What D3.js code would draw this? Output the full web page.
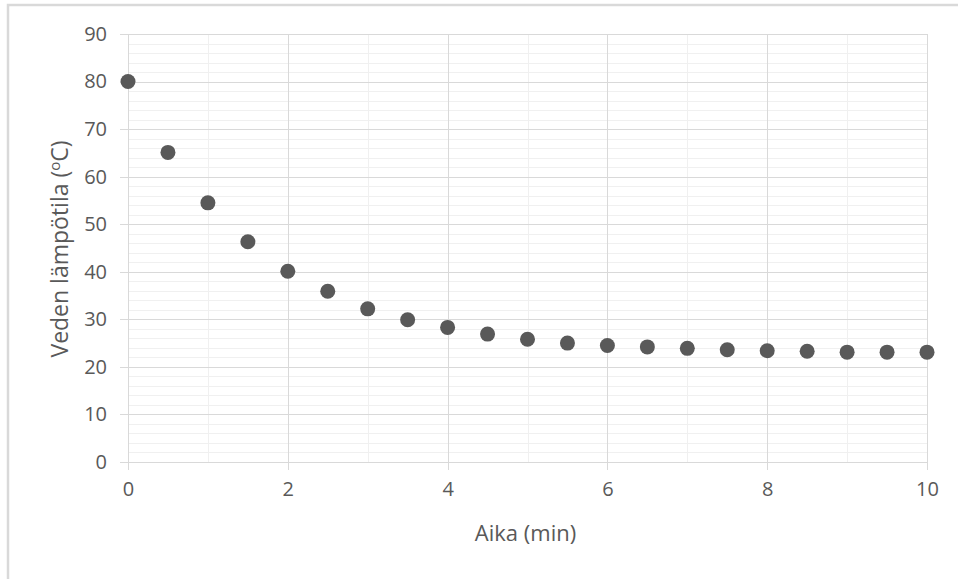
<!DOCTYPE html>
<html>
<head>
<meta charset="utf-8">
<script src="https://cdn.jsdelivr.net/npm/d3@7"></script>
<style>
	body { margin: 0; background: #fff; }
	text { font-family: "Open Sans", sans-serif; fill: #595959; }
</style>
</head>
<body>
<div id="chart"></div>
<script>
// time in minutes
var aika = [0, 0.5, 1, 1.5, 2, 2.5, 3, 3.5, 4, 4.5, 5, 5.5, 6, 6.5, 7, 7.5, 8, 8.5, 9, 9.5, 10];
// water temperature
var lampotila = [80, 65.1, 54.5, 46.3, 40.1, 35.9, 32.2, 29.9, 28.3, 26.9, 25.8, 25.0, 24.5, 24.2, 23.9, 23.6, 23.4, 23.3, 23.1, 23.1, 23.1];
var xTicks = [0, 2, 4, 6, 8, 10];
var yTicks = [0, 10, 20, 30, 40, 50, 60, 70, 80, 90];

var margin = { top: 34, right: 31, bottom: 117, left: 128 },
	width = 958 - margin.left - margin.right,
	height = 579 - margin.top - margin.bottom;

var svg = d3.select("#chart")
	.append("svg")
	.attr("width", 958)
	.attr("height", 579);

// outer chart border (runs off the right and bottom)
svg.append("rect")
	.attr("x", 8)
	.attr("y", 5)
	.attr("width", 980)
	.attr("height", 600)
	.attr("fill", "none")
	.attr("stroke", "#d9d9d9")
	.attr("stroke-width", 2.5);

var g = svg.append("g")
	.attr("transform", "translate(" + margin.left + "," + margin.top + ")");

var x = d3.scaleLinear().domain([0, 10]).range([0, width]);
var y = d3.scaleLinear().domain([0, 90]).range([height, 0]);

// minor gridlines
g.append("g")
	.selectAll("line")
	.data(d3.range(0, 91, 2).filter(function(d) { return d % 10 != 0; }))
	.enter()
	.append("line")
	.attr("x1", 0).attr("x2", width)
	.attr("y1", function(d) { return Math.round(y(d)) + 0.5; })
	.attr("y2", function(d) { return Math.round(y(d)) + 0.5; })
	.attr("stroke", "#f0f0f0");
g.append("g")
	.selectAll("line")
	.data([1, 3, 5, 7, 9])
	.enter()
	.append("line")
	.attr("y1", 0).attr("y2", height)
	.attr("x1", function(d) { return Math.round(x(d)) + 0.5; })
	.attr("x2", function(d) { return Math.round(x(d)) + 0.5; })
	.attr("stroke", "#f0f0f0");

// major gridlines
g.append("g")
	.selectAll("line")
	.data(yTicks)
	.enter()
	.append("line")
	.attr("x1", -8).attr("x2", width)
	.attr("y1", function(d) { return Math.round(y(d)) + 0.5; })
	.attr("y2", function(d) { return Math.round(y(d)) + 0.5; })
	.attr("stroke", "#d9d9d9");
g.append("g")
	.selectAll("line")
	.data(xTicks)
	.enter()
	.append("line")
	.attr("y1", 0).attr("y2", height + 8)
	.attr("x1", function(d) { return Math.round(x(d)) + 0.5; })
	.attr("x2", function(d) { return Math.round(x(d)) + 0.5; })
	.attr("stroke", "#d9d9d9");

// tick labels
var yAxis = g.append("g")
	.call(d3.axisLeft(y).tickValues(yTicks).tickSize(0).tickPadding(21));
yAxis.select(".domain").remove();
yAxis.selectAll("text").style("font-size", "20px").style("fill", "#595959");

var xAxis = g.append("g")
	.attr("transform", "translate(0," + height + ")")
	.call(d3.axisBottom(x).tickValues(xTicks).tickSize(0).tickPadding(20));
xAxis.select(".domain").remove();
xAxis.selectAll("text").style("font-size", "20px").style("fill", "#595959");

// axis titles
g.append("text")
	.attr("text-anchor", "middle")
	.attr("x", width / 2 - 2)
	.attr("y", height + 79)
	.style("font-size", "22px")
	.text("Aika (min)");

var yTitle = g.append("text")
	.attr("text-anchor", "middle")
	.attr("transform", "translate(-60," + (height / 2 + 1) + ") rotate(-90)")
	.style("font-size", "23px");
yTitle.append("tspan").text("Veden lämpötila (");
yTitle.append("tspan").attr("dy", "-8").style("font-size", "15px").text("o");
yTitle.append("tspan").attr("dy", "8").text("C)");

// dots
g.append("g")
	.selectAll("circle")
	.data(aika)
	.enter()
	.append("circle")
	.attr("cx", function(d) { return x(d); })
	.attr("cy", function(d, i) { return y(lampotila[i]); })
	.attr("r", 7.5)
	.style("fill", "#595959");
</script>
</body>
</html>
